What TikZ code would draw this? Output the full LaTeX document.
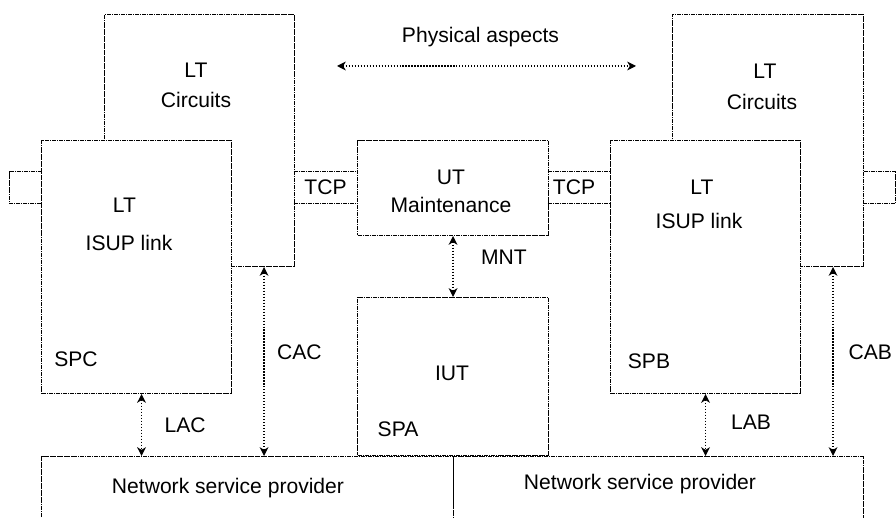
\documentclass[tikz,border=0pt]{standalone}
\usepackage{fontspec}
\setmainfont{Liberation Sans}
\usetikzlibrary{arrows.meta}

\begin{document}
\begin{tikzpicture}[
  box/.style={draw, line width=0.6pt, dash pattern=on 2.5pt off 0.5pt on 0.5pt off 0.5pt, fill=white, inner sep=0pt},
  edge/.style={line width=0.6pt, dash pattern=on 2.5pt off 0.5pt on 0.5pt off 0.5pt},
  stub/.style={inner sep=0pt, minimum height=0.62cm},
  link/.style={densely dotted, line width=0.7pt, {Stealth[length=5pt,width=5pt,inset=1.5pt]}-{Stealth[length=5pt,width=5pt,inset=1.5pt]}},
  lbl/.style={font=\fontsize{12}{14}\selectfont, inner sep=0pt}
]
\useasboundingbox (0,0) rectangle (17.92,10.36);
% stubs and circuit boxes
\node[stub, minimum width=0.62cm] (stubL) at (0.51,6.61) {};
\node[stub, minimum width=0.64cm] (stubR) at (17.58,6.61) {};
\draw[edge] (stubL.south east) -| (stubL.north west) -- (stubL.north east);
\draw[edge] (stubR.south west) -| (stubR.north east) -- (stubR.north west);
\node[box, anchor=south west, minimum width=3.8cm, minimum height=5.04cm] (circL) at (2.08,5.02) {};
\node[box, anchor=south west, minimum width=3.82cm, minimum height=5.04cm] (circR) at (13.44,5.02) {};
% link boxes
\node[box, anchor=south west, minimum width=3.8cm, minimum height=5.06cm] (isupL) at (0.82,2.48) {};
\node[box, anchor=south west, minimum width=3.8cm, minimum height=5.06cm] (isupR) at (12.2,2.48) {};
\node[box, anchor=south west, minimum width=3.82cm, minimum height=1.9cm] (ut) at (7.14,5.64) {};
\node[box, anchor=south west, minimum width=3.82cm, minimum height=3.16cm] (iut) at (7.14,1.24) {};
\node[stub, minimum width=1.26cm] (tcpL) at (6.51,6.61) {};
\node[stub, minimum width=1.24cm] (tcpR) at (11.58,6.61) {};
\draw[edge] (tcpL.north west) -- (tcpL.north east) (tcpL.south west) -- (tcpL.south east);
\draw[edge] (tcpR.north west) -- (tcpR.north east) (tcpR.south west) -- (tcpR.south east);
% network service provider
\node[box, anchor=north west, minimum width=8.24cm, minimum height=1.8cm] (nspL) at (0.82,1.24) {};
\node[box, anchor=north west, minimum width=8.2cm, minimum height=1.8cm] (nspR) at (9.06,1.24) {};

% texts
\node[lbl] (phys) at (9.61,9.62) {Physical aspects};
\node[lbl] (circLa) at (3.92,8.96) {LT};
\node[lbl] (circLb) at (3.92,8.36) {Circuits};
\node[lbl] (circRa) at (15.3,8.94) {LT};
\node[lbl] (circRb) at (15.24,8.32) {Circuits};
\node[lbl] (isupLa) at (2.49,6.26) {LT};
\node[lbl] (isupLb) at (2.58,5.5) {ISUP link};
\node[lbl] (isupRa) at (14.04,6.62) {LT};
\node[lbl] (isupRb) at (13.98,5.94) {ISUP link};
\node[lbl] (uta) at (9.02,6.82) {UT};
\node[lbl] (utb) at (9.02,6.26) {Maintenance};
\node[lbl] at (tcpL) {TCP};
\node[lbl] at ([xshift=-1mm]tcpR) {TCP};
\node[lbl] (iutl) at (9.04,2.9) {IUT};
\node[lbl] (spc) at (1.52,3.18) {SPC};
\node[lbl] (spb) at (12.98,3.14) {SPB};
\node[lbl] (spa) at (7.96,1.78) {SPA};
\node[lbl] (nspLl) at (4.56,0.6) {Network service provider};
\node[lbl] (nspRl) at (12.8,0.68) {Network service provider};

% arrows
\coordinate (physA) at (6.74,9.04);
\coordinate (physB) at (12.72,9.04);
\draw[link] (physA) -- (physB);
\draw[link] (ut.south) -- (iut.north) node[lbl, pos=0.35, right=0.55cm] {MNT};
\draw[link] ([xshift=1mm]isupL.south) -- ([xshift=1mm]isupL.south |- nspL.north)
  node[lbl, midway, right=0.45cm] {LAC};
\draw[link] ([xshift=-6.2mm]circL.south east) -- ([xshift=-6.2mm]circL.south east |- nspL.north)
  node[lbl, pos=0.45, right=0.25cm] {CAC};
\draw[link] (isupR.south) -- (isupR.south |- nspR.north)
  node[lbl, pos=0.45, right=0.5cm] {LAB};
\draw[link] ([xshift=-6.2mm]circR.south east) -- ([xshift=-6.2mm]circR.south east |- nspR.north)
  node[lbl, pos=0.45, right=0.3cm] {CAB};
\end{tikzpicture}
\end{document}
